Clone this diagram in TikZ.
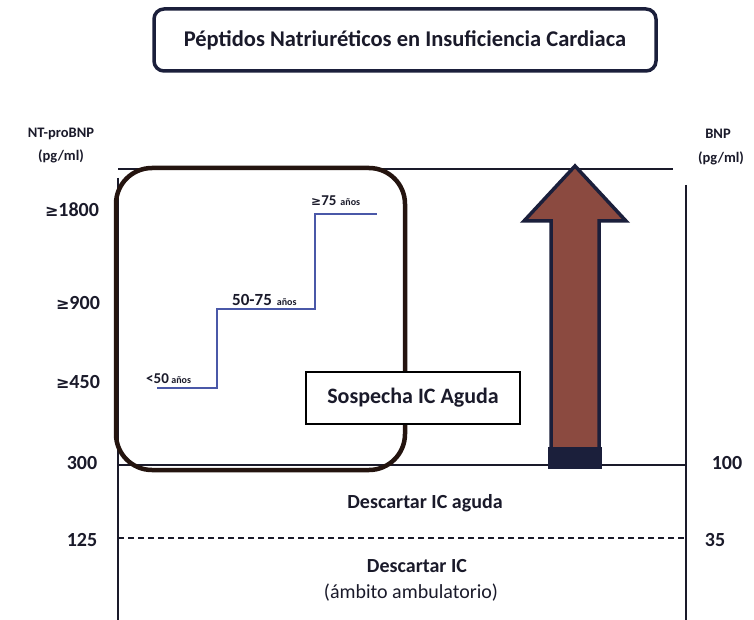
\documentclass[tikz,border=0pt]{standalone}
\usepackage{fontspec}
\setmainfont{Carlito}
\newfontfamily\symfont{DejaVu Sans}
\definecolor{navy}{HTML}{1B1F3B}
\definecolor{inkc}{HTML}{1A1A2A}
\definecolor{boxbrown}{HTML}{24140F}
\definecolor{stepblue}{HTML}{4A58A8}
\definecolor{arrowfill}{HTML}{8B4A40}
\tikzset{
  lbl/.style={font=\bfseries\fontsize{20}{22}\selectfont, text=inkc, inner sep=0pt},
  small/.style={font=\bfseries\fontsize{14.5}{16}\selectfont, text=inkc, inner sep=0pt, align=center},
  axis/.style={draw=inkc, line width=1.4pt},
}
\newcommand{\gesym}{{\symfont\bfseries\fontsize{16}{18}\selectfont ≥}}
\begin{document}
\begin{tikzpicture}[x=1pt,y=-1pt]
\useasboundingbox[fill=white] (0,0) rectangle (754,620);
% title
\node[draw=navy, line width=3.5pt, rounded corners=10pt, minimum width=502pt, minimum height=62pt,
      font=\bfseries\fontsize{22.5}{24}\selectfont, text=inkc] (title) at (405,40) {Péptidos Natriuréticos en Insuficiencia Cardiaca};
% axes
\coordinate (tl) at (118,169);
\coordinate (tr) at (673,169);
\coordinate (lt) at (118,178);
\coordinate (lb) at (118,620);
\coordinate (rt) at (686,185);
\coordinate (rb) at (686,620);
\coordinate (ml) at (118,465);
\coordinate (mr) at (686,465);
\coordinate (dl) at (118,538);
\coordinate (dr) at (686,538);
\draw[axis] (tl) -- (tr);
\draw[axis] (lt) -- (lb);
\draw[axis] (rt) -- (rb);
\draw[axis] (ml) -- (mr);
\draw[axis, dash pattern=on 6pt off 4pt] (dl) -- (dr);
% rounded box
\draw[draw=boxbrown, line width=4.5pt, rounded corners=36pt] (116,168) rectangle (405,470);
% arrow
\draw[draw=navy, fill=arrowfill, line width=3.5pt, line join=miter]
  (551,467) -- (551,221) -- (524,221) -- (575,166) -- (626,221) -- (599,221) -- (599,467) -- cycle;
\fill[navy] (548,447) rectangle (602,469);
% steps
\draw[draw=stepblue, line width=1.6pt] (157,388) -- (217,388) -- (217,309) -- (315,309) -- (315,214) -- (377,214);
\node[anchor=base west, inner sep=0pt, text=inkc] (a1) at (146,383) {\bfseries\fontsize{15}{16}\selectfont <50\,\fontsize{10}{12}\selectfont años};
\node[anchor=base west, inner sep=0pt, text=inkc] (a2) at (232,305) {\bfseries\fontsize{17}{18}\selectfont 50-75\hspace{5pt}\fontsize{10}{12}\selectfont años};
\node[anchor=base west, inner sep=0pt, text=inkc] (a3) at (311,206) {\bfseries\fontsize{15}{16}\selectfont {\symfont\bfseries\fontsize{12}{13}\selectfont ≥}75\hspace{4pt}\fontsize{10}{12}\selectfont años};
% sospecha
\node[draw=black, line width=1.4pt, fill=white, minimum width=214pt, minimum height=52pt,
      font=\bfseries\fontsize{22}{24}\selectfont, text=inkc] (sosp) at (413,398) {Sospecha IC Aguda};
% left labels
\node[small] (ntp) at (61,134) {NT-proBNP};
\node[small] (ntu) at (61,156) {(pg/ml)};
\node[lbl] (v1800) at (72,210) {\gesym1800};
\node[lbl] (v900) at (78,303) {\gesym900};
\node[lbl] (v450) at (78,382) {\gesym450};
\node[lbl] (v300) at (82,463) {300};
\node[lbl] (v125) at (82,540) {125};
% right labels
\node[small] (bnp) at (718,134) {BNP};
\node[small] (bnpu) at (721,158) {(pg/ml)};
\node[lbl] (v100) at (727,463) {100};
\node[lbl] (v35) at (715,540) {35};
% zones
\node[lbl] (desc1) at (425,503) {Descartar IC aguda};
\node[lbl] (desc2a) at (417,566) {Descartar IC};
\node[lbl, font=\fontsize{20}{22}\selectfont] (desc2b) at (411,593) {(ámbito ambulatorio)};
\end{tikzpicture}
\end{document}
